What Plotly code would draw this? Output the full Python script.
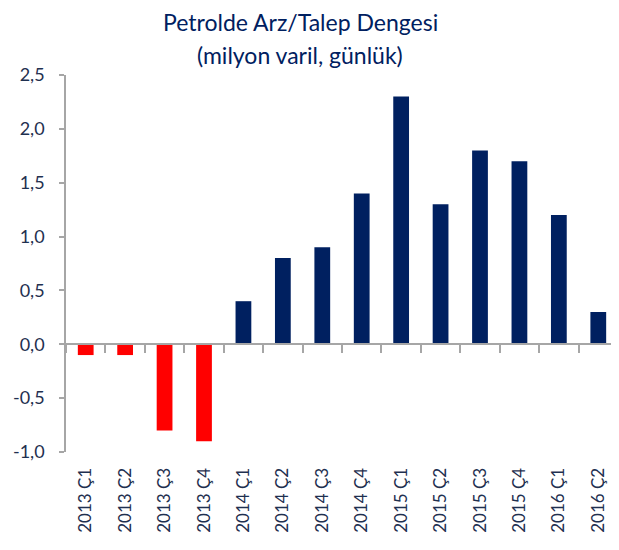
import plotly.graph_objects as go

categories = ["2013 Ç1", "2013 Ç2", "2013 Ç3", "2013 Ç4",
              "2014 Ç1", "2014 Ç2", "2014 Ç3", "2014 Ç4",
              "2015 Ç1", "2015 Ç2", "2015 Ç3", "2015 Ç4",
              "2016 Ç1", "2016 Ç2"]
values = [-0.1, -0.1, -0.8, -0.9, 0.4, 0.8, 0.9, 1.4, 2.3, 1.3, 1.8, 1.7, 1.2, 0.3]
y_ticks = [-1.0, -0.5, 0.0, 0.5, 1.0, 1.5, 2.0, 2.5]
y_tick_labels = ["-1,0", "-0,5", "0,0", "0,5", "1,0", "1,5", "2,0", "2,5"]
title_lines = ["Petrolde Arz/Talep Dengesi", "(milyon varil, günlük)"]

NAVY = "#002060"
RED = "#FF0000"
TXT = "#1F3050"
GRAY = "#A6A6A6"

colors = [RED if v < 0 else NAVY for v in values]

fig = go.Figure()
fig.add_trace(go.Bar(x=categories, y=values, marker=dict(color=colors, line=dict(width=0)),
                     hoverinfo="x+y"))
# invisible trace on the secondary x-axis to draw the zero axis line with boundary ticks
fig.add_trace(go.Bar(x=categories, y=[None]*len(categories), xaxis="x2", showlegend=False,
                     hoverinfo="skip"))

ymin, ymax = -1.0, 2.5
zero_pos = (0 - ymin) / (ymax - ymin)

for line, shift in zip(title_lines, [53, 20]):
    fig.add_annotation(
        text=line, xref="paper", yref="paper",
        x=(300 - 66) / (618 - 66), y=1, yshift=shift, xanchor="center", yanchor="middle",
        showarrow=False, align="center", borderpad=0,
        font=dict(family="Lato, 'Open Sans', sans-serif", size=23, color=NAVY),
    )

# the page body has an 8px default margin, so the figure is sized to fit inside it
fig.update_layout(
    width=611, height=542,
    margin=dict(l=58, r=1, t=67, b=98),
    paper_bgcolor="white", plot_bgcolor="white",
    separators=",.",
    showlegend=False,
    bargap=0.6,
    font=dict(family="Lato, 'Open Sans', sans-serif", color=TXT, size=17),
    xaxis=dict(
        type="category", categoryorder="array", categoryarray=categories,
        showline=False, showgrid=False, zeroline=False, automargin=False,
        ticks="outside", ticklen=8, tickcolor="rgba(0,0,0,0)",
        tickangle=-90, tickfont=dict(size=17, color=TXT),
    ),
    xaxis2=dict(
        type="category", categoryorder="array", categoryarray=categories,
        overlaying="x", anchor="free", position=zero_pos, automargin=False,
        showline=True, linecolor=GRAY, linewidth=1.5,
        ticks="outside", tickson="boundaries", ticklen=8, tickcolor=GRAY, tickwidth=1.5,
        showticklabels=False, showgrid=False, zeroline=False,
    ),
    yaxis=dict(
        range=[ymin, ymax], tickvals=y_ticks, ticktext=y_tick_labels, automargin=False,
        showline=True, linecolor=GRAY, linewidth=1.5,
        ticks="outside", ticklen=5, tickcolor=GRAY, tickwidth=1.5,
        showgrid=False, zeroline=False,
        tickfont=dict(size=18, color=TXT),
        ticklabelstandoff=11,
    ),
)

fig.write_html("out.html")
